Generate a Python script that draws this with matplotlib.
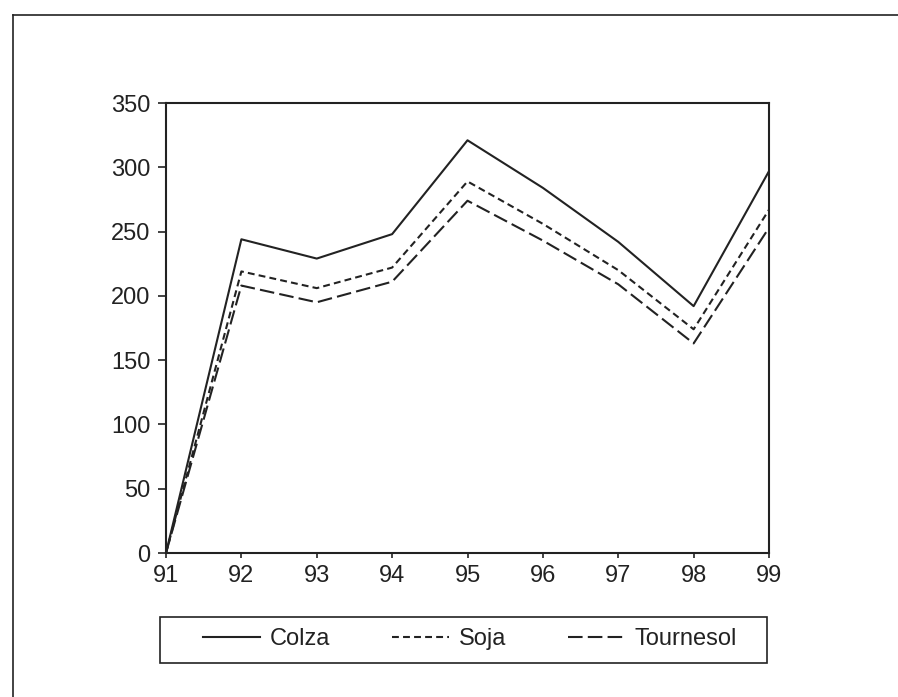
import matplotlib
matplotlib.use("Agg")
import matplotlib.pyplot as plt
from matplotlib.lines import Line2D
from matplotlib.patches import Rectangle

# years (x axis) and values
years = [91, 92, 93, 94, 95, 96, 97, 98, 99]
year_labels = ["91", "92", "93", "94", "95", "96", "97", "98", "99"]
colza = [0, 244, 229, 248, 321, 284, 242, 192, 297]
soja = [0, 219, 206, 222, 289, 256, 220, 174, 267]
tournesol = [0, 208, 195, 211, 274, 243, 209, 163, 253]

plt.rcParams['font.family'] = ['Liberation Sans', 'DejaVu Sans']

W, H = 898, 697
fig = plt.figure(figsize=(W / 100, H / 100), dpi=100)
ax = fig.add_axes([166 / W, 1 - 553 / H, (769 - 166) / W, (553 - 103) / H])

ink = "#222222"
ax.plot(years, colza, color=ink, lw=1.5, label="Colza")
ax.plot(years, soja, color=ink, lw=1.5, dashes=(3.3, 2.0), label="Soja")
ax.plot(years, tournesol, color=ink, lw=1.5, dashes=(7, 2.5), label="Tournesol")

ax.set_xlim(91, 99)
ax.set_ylim(0, 350)
ax.set_xticks(years)
ax.set_xticklabels(year_labels)
ax.set_yticks(range(0, 351, 50))
ax.tick_params(direction="out", width=1.2, colors=ink, labelsize=17)
ax.tick_params(axis="y", length=6, pad=5)
ax.tick_params(axis="x", length=3.5, pad=5)
for s in ax.spines.values():
    s.set_linewidth(1.5)
    s.set_color(ink)

# legend box drawn by hand, entries spread inside it
fig.add_artist(Rectangle((160 / W, 1 - 663 / H), 607 / W, 46 / H,
                         transform=fig.transFigure, fill=False,
                         edgecolor=ink, lw=1.2))
leg = fig.legend(loc="center left",
                 bbox_to_anchor=(203 / W, 1 - 662 / H, (737 - 203) / W, 46 / H),
                 mode="expand", ncol=3, fontsize=17, handlelength=2.4,
                 handletextpad=0.42, frameon=False,
                 borderaxespad=0, borderpad=0)
for t in leg.get_texts():
    t.set_color(ink)

# outer frame (top and left edges visible)
fig.add_artist(Line2D([13 / W, 1], [1 - 15 / H, 1 - 15 / H], color=ink, lw=1.2))
fig.add_artist(Line2D([13 / W, 13 / W], [0, 1 - 15 / H], color=ink, lw=1.2))

fig.savefig("out.png", dpi=100)
